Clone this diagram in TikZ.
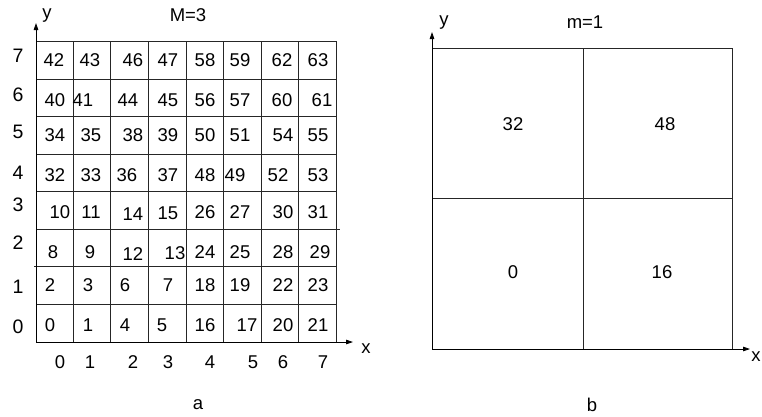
\documentclass[tikz,border=0pt]{standalone}
\usepackage{fontspec}
\setmainfont{Liberation Sans}
\usetikzlibrary{arrows.meta}
\begin{document}
\begin{tikzpicture}[x=1pt,y=-1pt,
    txt/.style={inner sep=0pt,font=\fontsize{18.5}{22}\selectfont},
    lbl/.style={inner sep=0pt,font=\fontsize{19.5}{23}\selectfont},
    grid/.style={line width=0.8pt,black!85},
    axis/.style={line width=0.8pt,-{Triangle[length=7pt,width=4.5pt]}}]
    \useasboundingbox (0,0) rectangle (762,416);

    % Panel a: coordinates
    \coordinate (Oa) at (36,342);
    \coordinate (Ya) at (36,23);
    \coordinate (Xa) at (353,342);

    % Panel a: grid
    \foreach \gx in {73,110,148,186,223,261,298,336}
        \draw[grid] (\gx,41) -- (\gx,342);
    \foreach \gy in {41,79,116,154,191,304}
        \draw[grid] (36,\gy) -- (336,\gy);
    \draw[grid] (36,229) -- (340,229);
    \draw[grid] (34,266) -- (336,266);

    % Panel a: axes
    \draw[axis] (Oa) -- (Ya);
    \draw[axis] (Oa) -- (Xa);
    \node[txt] (ya) at (47,16) {y};
    \node[txt] (xa) at (366,349) {x};
    \node[txt] (M) at (188,15) {M=3};
    \node[txt] (a) at (198,405) {a};

    % Row and column labels
    \foreach \r/\py in {0/327,1/287,2/243,3/205,4/173,5/132,6/95,7/56}
        \node[lbl] (row\r) at (18,\py) {\r};
    \foreach \k/\px in {0/60,1/90,2/133,3/168,4/210,5/253,6/283,7/323}
        \node[txt] (col\k) at (\px,362) {\k};

    % Cell numbers
    \foreach \n/\px/\py in {
        42/54/60,43/90/60,46/133/60,47/168/60,58/205/60,59/240/60,62/282/60,63/318/60,
        40/55/100,41/83/100,44/128/100,45/168/100,56/205/100,57/240/100,60/282/100,61/322/100,
        34/55/135,35/91/135,38/133/135,39/168/135,50/205/135,51/240/135,54/283/135,55/318/135,
        32/55/175,33/91/175,36/127/175,37/168/175,48/205/175,49/235/175,52/278/175,53/318/175,
        10/60/212,11/91/212,14/133/214,15/168/213,26/205/212,27/240/212,30/283/212,31/318/212,
        8/53/252,9/90/252,12/133/254,13/175/253,24/205/252,25/240/252,28/283/252,29/320/252,
        2/50/285,3/88/285,6/125/285,7/168/285,18/205/285,19/240/285,22/283/285,23/318/285,
        0/50/325,1/88/325,4/125/325,5/162/325,16/205/325,17/247/325,20/283/325,21/318/325}
        \node[txt] (c\n) at (\px,\py) {\n};

    % Panel b: coordinates
    \coordinate (Ob) at (432,349);
    \coordinate (Yb) at (432,32);
    \coordinate (Xb) at (750,349);

    % Panel b: quadrants
    \draw[grid] (432,48) -- (732,48) -- (732,349);
    \draw[grid] (583,48) -- (583,349);
    \draw[grid] (432,198) -- (732,198);

    % Panel b: axes
    \draw[axis] (Ob) -- (Yb);
    \draw[axis] (Ob) -- (Xb);
    \node[txt] (yb) at (444,23) {y};
    \node[txt] (xb) at (756,357) {x};
    \node[txt] (m) at (585,22) {m=1};
    \node[txt] (b) at (592,405) {b};

    \node[txt] (q32) at (513,124) {32};
    \node[txt] (q48) at (665,124) {48};
    \node[txt] (q0) at (513,272) {0};
    \node[txt] (q16) at (662,272) {16};
\end{tikzpicture}
\end{document}
